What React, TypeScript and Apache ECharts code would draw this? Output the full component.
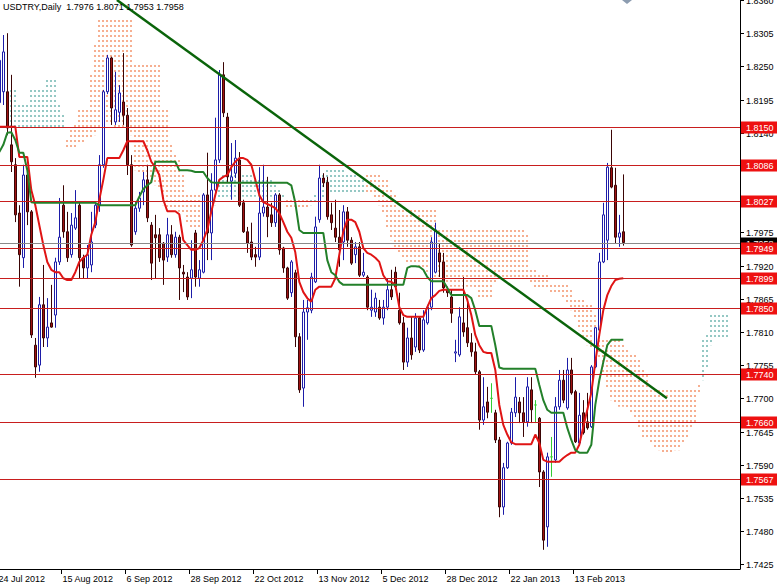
import React, { useEffect, useRef } from 'react';
import * as echarts from 'echarts';

const title = 'USDTRY,Daily  1.7976 1.8071 1.7953 1.7958';

// Daily bars, index 0 = 24 Jul 2012
const openP = [1.8190,1.8208,1.8208,1.8120,1.8087,1.8007,1.7933,1.8070,1.8009,1.7788,
 1.7755,1.7855,1.7800,1.7825,1.7838,1.7926,1.8020,1.7976,1.7938,1.7982,
 1.8020,1.7933,1.7916,1.7921,1.7987,1.8020,1.8087,1.8208,1.8264,1.8158,
 1.8174,1.8191,1.8169,1.8087,1.7976,1.8015,1.8042,1.8062,1.7987,1.7971,
 1.7971,1.7957,1.7934,1.7971,1.7938,1.7967,1.7909,1.7901,1.7899,1.7974,
 1.7899,1.7909,1.8037,1.7974,1.8045,1.8095,1.8236,1.8166,1.8060,1.8073,
 1.8095,1.8024,1.7976,1.7959,1.7938,1.7934,1.8007,1.8017,1.8004,1.7991,
 1.8037,1.7949,1.7916,1.7875,1.7908,1.7802,1.7717,1.7843,1.7846,1.7893,
 1.7996,1.8065,1.8058,1.8004,1.7982,1.7967,1.7959,1.8009,1.7962,1.7938,
 1.7951,1.7904,1.7901,1.7846,1.7843,1.7851,1.7833,1.7851,1.7880,1.7909,
 1.7846,1.7825,1.7760,1.7800,1.7785,1.7833,1.7780,1.7825,1.7851,1.7909,
 1.7941,1.7926,1.7880,1.7868,1.7775,1.7772,1.7825,1.7817,1.7792,1.7777,
 1.7744,1.7664,1.7694,1.7700,1.7676,1.7631,1.7520,1.7585,1.7626,1.7676,
 1.7694,1.7676,1.7661,1.7714,1.7689,1.7667,1.7578,1.7487,1.7603,1.7598,
 1.7686,1.7730,1.7684,1.7747,1.7711,1.7626,1.7676,1.7661,1.7653,1.7752,
 1.7813,1.7926,1.7962,1.8082,1.8053,1.7967,1.7976];
const highP = [1.8280,1.8302,1.8305,1.8236,1.8098,1.8020,1.8087,1.8082,1.8012,1.7800,
 1.7868,1.7921,1.7866,1.7888,1.7933,1.8032,1.8053,1.8009,1.8007,1.8045,
 1.8025,1.7938,1.7954,1.8009,1.8025,1.8103,1.8211,1.8269,1.8266,1.8241,
 1.8219,1.8272,1.8181,1.8103,1.8025,1.8042,1.8075,1.8087,1.7992,1.8004,
 1.7982,1.7959,1.7999,1.7987,1.7976,1.7971,1.7921,1.7909,1.7962,1.7979,
 1.7929,1.8040,1.8107,1.8073,1.8165,1.8244,1.8257,1.8173,1.8123,1.8128,
 1.8108,1.8029,1.7984,1.7991,1.7951,1.8083,1.8087,1.8067,1.8024,1.8040,
 1.8040,1.7951,1.7918,1.7929,1.7913,1.7808,1.7863,1.7863,1.7908,1.8001,
 1.8087,1.8073,1.8067,1.8024,1.8029,1.8012,1.8020,1.8017,1.7967,1.7959,
 1.7959,1.7941,1.7904,1.7880,1.7875,1.7863,1.7863,1.7899,1.7913,1.7918,
 1.7875,1.7835,1.7817,1.7835,1.7841,1.7835,1.7846,1.7855,1.7967,1.7991,
 1.7957,1.7941,1.7885,1.7880,1.7797,1.7851,1.7901,1.7858,1.7808,1.7792,
 1.7747,1.7735,1.7719,1.7725,1.7681,1.7636,1.7593,1.7628,1.7684,1.7735,
 1.7702,1.7702,1.7735,1.7735,1.7697,1.7669,1.7581,1.7610,1.7636,1.7702,
 1.7747,1.7747,1.7767,1.7767,1.7714,1.7709,1.7697,1.7709,1.7755,1.7818,
 1.7941,1.8024,1.8090,1.8145,1.8082,1.8004,1.8071];
const lowP = [1.8180,1.8186,1.8136,1.8075,1.7992,1.7885,1.7916,1.7987,1.7800,1.7734,
 1.7744,1.7785,1.7785,1.7817,1.7817,1.7921,1.7966,1.7926,1.7933,1.7979,
 1.7899,1.7899,1.7899,1.7909,1.7982,1.8009,1.8082,1.8204,1.8153,1.8153,
 1.8158,1.8153,1.8070,1.7951,1.7971,1.8009,1.8020,1.7992,1.7896,1.7899,
 1.7926,1.7888,1.7926,1.7933,1.7933,1.7863,1.7876,1.7863,1.7866,1.7885,
 1.7885,1.7907,1.7929,1.7929,1.8040,1.8090,1.8166,1.8057,1.8029,1.8065,
 1.8017,1.7974,1.7941,1.7929,1.7918,1.7929,1.8001,1.7967,1.7984,1.7984,
 1.7938,1.7908,1.7863,1.7868,1.7785,1.7709,1.7686,1.7797,1.7841,1.7891,
 1.7991,1.8050,1.7996,1.7979,1.7959,1.7918,1.7929,1.7951,1.7921,1.7924,
 1.7901,1.7901,1.7846,1.7835,1.7835,1.7830,1.7822,1.7846,1.7863,1.7880,
 1.7822,1.7747,1.7752,1.7764,1.7777,1.7775,1.7777,1.7822,1.7846,1.7907,
 1.7901,1.7875,1.7868,1.7825,1.7760,1.7769,1.7802,1.7785,1.7769,1.7739,
 1.7648,1.7656,1.7667,1.7676,1.7626,1.7503,1.7507,1.7583,1.7623,1.7669,
 1.7659,1.7636,1.7653,1.7659,1.7659,1.7553,1.7449,1.7454,1.7570,1.7593,
 1.7681,1.7692,1.7681,1.7706,1.7626,1.7623,1.7640,1.7648,1.7651,1.7750,
 1.7810,1.7924,1.7929,1.8048,1.7957,1.7951,1.7953];
const closeP = [1.8260,1.8274,1.8148,1.8092,1.8004,1.7938,1.8070,1.8009,1.7805,1.7752,
 1.7855,1.7800,1.7818,1.7818,1.7926,1.7967,1.7976,1.7933,1.7987,1.7999,
 1.7933,1.7916,1.7938,1.7959,1.8020,1.8087,1.8208,1.8264,1.8181,1.8178,
 1.8206,1.8169,1.8087,1.7954,1.8015,1.8032,1.8062,1.7999,1.7924,1.7966,
 1.7933,1.7929,1.7971,1.7938,1.7967,1.7916,1.7906,1.7868,1.7913,1.7901,
 1.7913,1.8037,1.7974,1.8045,1.8095,1.8236,1.8173,1.8067,1.8067,1.8098,
 1.8020,1.7976,1.7957,1.7934,1.7934,1.8007,1.8017,1.8001,1.7991,1.8037,
 1.7946,1.7916,1.7866,1.7926,1.7802,1.7714,1.7843,1.7850,1.7901,1.7984,
 1.8065,1.8057,1.8001,1.7991,1.7967,1.7946,1.8009,1.7962,1.7924,1.7951,
 1.7904,1.7909,1.7851,1.7851,1.7866,1.7833,1.7851,1.7880,1.7868,1.7885,
 1.7825,1.7760,1.7800,1.7772,1.7833,1.7780,1.7830,1.7851,1.7959,1.7979,
 1.7926,1.7883,1.7875,1.7841,1.7777,1.7835,1.7810,1.7792,1.7777,1.7744,
 1.7664,1.7686,1.7677,1.7700,1.7631,1.7520,1.7585,1.7626,1.7677,1.7702,
 1.7676,1.7661,1.7719,1.7681,1.7689,1.7578,1.7465,1.7603,1.7603,1.7686,
 1.7730,1.7697,1.7747,1.7709,1.7628,1.7672,1.7643,1.7651,1.7752,1.7817,
 1.7926,1.8004,1.8083,1.8050,1.7967,1.7974,1.7958];

const tenkan = [1.8150,1.8150,1.8150,1.8150,1.8150,1.8100,1.8100,1.8100,1.8045,1.8020,
 1.7987,1.7954,1.7926,1.7913,1.7909,1.7909,1.7899,1.7896,1.7896,1.7909,
 1.7926,1.7933,1.7938,1.7971,1.7992,1.8029,1.8062,1.8098,1.8098,1.8098,
 1.8098,1.8111,1.8126,1.8126,1.8126,1.8126,1.8126,1.8111,1.8092,1.8083,
 1.8070,1.8029,1.8010,1.8010,1.8010,1.8005,1.7962,1.7954,1.7946,1.7946,
 1.7949,1.7962,1.7979,1.8009,1.8037,1.8062,1.8067,1.8070,1.8083,1.8092,
 1.8098,1.8098,1.8095,1.8087,1.8062,1.8037,1.8025,1.8022,1.8019,1.8015,
 1.8007,1.7992,1.7976,1.7966,1.7942,1.7893,1.7876,1.7866,1.7860,1.7880,
 1.7885,1.7885,1.7885,1.7885,1.7899,1.7938,1.7976,1.7996,1.7996,1.7992,
 1.7976,1.7949,1.7941,1.7938,1.7933,1.7926,1.7904,1.7894,1.7893,1.7888,
 1.7851,1.7838,1.7835,1.7835,1.7835,1.7835,1.7835,1.7851,1.7866,1.7871,
 1.7878,1.7880,1.7880,1.7880,1.7880,1.7880,1.7880,1.7863,1.7838,1.7805,
 1.7788,1.7777,1.7775,1.7775,1.7747,1.7689,1.7656,1.7640,1.7627,1.7624,
 1.7624,1.7624,1.7624,1.7624,1.7640,1.7626,1.7598,1.7595,1.7595,1.7595,
 1.7595,1.7601,1.7606,1.7610,1.7610,1.7623,1.7653,1.7681,1.7709,1.7760,
 1.7805,1.7846,1.7871,1.7886,1.7896,1.7898,1.7899];

const kijun = [1.8108,1.8120,1.8140,1.8141,1.8128,1.8107,1.8107,1.8078,1.8025,1.8024,
 1.8024,1.8024,1.8024,1.8024,1.8024,1.8024,1.8024,1.8024,1.8024,1.8024,
 1.8024,1.8024,1.8024,1.8024,1.8024,1.8020,1.8020,1.8020,1.8020,1.8020,
 1.8020,1.8020,1.8020,1.8020,1.8020,1.8034,1.8047,1.8053,1.8058,1.8092,
 1.8092,1.8092,1.8092,1.8092,1.8092,1.8078,1.8078,1.8078,1.8077,1.8075,
 1.8075,1.8075,1.8065,1.8058,1.8057,1.8057,1.8057,1.8057,1.8057,1.8057,
 1.8057,1.8057,1.8057,1.8057,1.8057,1.8057,1.8057,1.8057,1.8057,1.8057,
 1.8057,1.8057,1.8057,1.8053,1.8024,1.7979,1.7974,1.7974,1.7974,1.7974,
 1.7974,1.7974,1.7929,1.7909,1.7904,1.7893,1.7888,1.7888,1.7888,1.7888,
 1.7888,1.7888,1.7888,1.7888,1.7888,1.7888,1.7888,1.7888,1.7888,1.7888,
 1.7888,1.7888,1.7916,1.7919,1.7919,1.7918,1.7913,1.7901,1.7894,1.7894,
 1.7894,1.7894,1.7883,1.7871,1.7871,1.7871,1.7871,1.7871,1.7866,1.7846,
 1.7820,1.7820,1.7820,1.7820,1.7788,1.7751,1.7749,1.7749,1.7749,1.7749,
 1.7749,1.7749,1.7749,1.7749,1.7749,1.7722,1.7697,1.7681,1.7676,1.7676,
 1.7676,1.7676,1.7651,1.7631,1.7614,1.7610,1.7610,1.7610,1.7623,1.7689,
 1.7730,1.7760,1.7788,1.7797,1.7797,1.7797,1.7797];

// Cloud (Senkou span A / B), index 0..182 (26 bars ahead)
const spanA = [null,null,null,1.8211,1.8211,1.8194,1.8194,1.8194,1.8216,1.8216,
 1.8216,1.8216,1.8232,1.8232,1.8232,1.8194,1.8174,1.8115,1.8115,1.8115,
 1.8120,1.8123,1.8128,1.8128,1.8136,1.8145,1.8148,1.8153,1.8153,1.8148,
 1.8148,1.8145,1.8145,1.8136,1.8078,1.8075,1.8070,1.8065,1.8058,1.8053,
 1.8045,1.8020,1.8017,1.8012,1.8012,1.8009,1.8004,1.7987,1.7982,1.7979,
 1.7979,1.7987,1.8004,1.8012,1.8037,1.8070,1.8078,1.8078,1.8078,1.8078,
 1.8078,1.8078,1.8078,1.8075,1.8070,1.8070,1.8070,1.8065,1.8062,1.8057,
 1.8049,1.8037,1.8017,1.8017,1.8015,1.8015,1.8012,1.8012,1.8032,1.8045,
 1.8062,1.8075,1.8082,1.8082,1.8082,1.8082,1.8082,1.8078,1.8078,1.8075,
 1.8070,1.8062,1.8042,1.8037,1.8029,1.8020,1.8004,1.7979,1.7962,1.7946,
 1.7941,1.7933,1.7926,1.7921,1.7921,1.7916,1.7913,1.7909,1.7904,1.7899,
 1.7896,1.7893,1.7888,1.7885,1.7885,1.7885,1.7885,1.7885,1.7885,1.7880,
 1.7866,1.7863,1.7863,1.7863,1.7888,1.7896,1.7899,1.7899,1.7899,1.7899,
 1.7899,1.7899,1.7896,1.7888,1.7883,1.7880,1.7880,1.7880,1.7876,1.7875,
 1.7871,1.7863,1.7855,1.7846,1.7830,1.7813,1.7797,1.7788,1.7780,1.7780,
 1.7764,1.7739,1.7714,1.7697,1.7689,1.7686,1.7686,1.7681,1.7677,1.7664,
 1.7648,1.7636,1.7631,1.7623,1.7618,1.7614,1.7610,1.7610,1.7610,1.7614,
 1.7614,1.7623,1.7631,1.7648,1.7656,1.7706,1.7797,1.7813,1.7841,1.7846,
 1.7846,1.7846,1.7846];
const spanB = [null,null,null,1.8148,1.8148,1.8145,1.8145,1.8145,1.8145,1.8145,
 1.8145,1.8145,1.8145,1.8145,1.8145,1.8148,1.8148,1.8136,1.8145,1.8153,
 1.8178,1.8186,1.8186,1.8244,1.8290,1.8327,1.8327,1.8327,1.8327,1.8327,
 1.8327,1.8327,1.8327,1.8327,1.8257,1.8257,1.8257,1.8257,1.8257,1.8257,
 1.8257,1.8186,1.8186,1.8128,1.8111,1.8095,1.8078,1.8045,1.8040,1.8040,
 1.8037,1.8029,1.8020,1.8020,1.8020,1.8029,1.8032,1.8034,1.8034,1.8034,
 1.8034,1.8034,1.8034,1.8034,1.8034,1.8034,1.8034,1.8034,1.8034,1.8032,
 1.8029,1.8029,1.8029,1.8029,1.8029,1.8029,1.8029,1.8029,1.8020,1.8022,
 1.8024,1.8029,1.8032,1.8037,1.8040,1.8040,1.8042,1.8040,1.8040,1.8042,
 1.8042,1.8042,1.8075,1.8075,1.8075,1.8075,1.8070,1.8062,1.8053,1.8037,
 1.8015,1.8015,1.8015,1.8015,1.8015,1.8015,1.8015,1.8015,1.8015,1.8015,
 1.7979,1.7979,1.7979,1.7979,1.7979,1.7979,1.7979,1.7979,1.7979,1.7979,
 1.7979,1.7979,1.7979,1.7979,1.7979,1.7979,1.7979,1.7979,1.7979,1.7979,
 1.7979,1.7979,1.7976,1.7916,1.7913,1.7909,1.7909,1.7908,1.7891,1.7888,
 1.7888,1.7888,1.7888,1.7880,1.7868,1.7868,1.7863,1.7855,1.7855,1.7846,
 1.7797,1.7797,1.7797,1.7797,1.7797,1.7797,1.7793,1.7788,1.7780,1.7772,
 1.7764,1.7755,1.7739,1.7719,1.7719,1.7719,1.7719,1.7719,1.7719,1.7719,
 1.7719,1.7719,1.7719,1.7719,1.7719,1.7730,1.7730,1.7747,1.7788,1.7797,
 1.7797,1.7797,1.7797];

const levels = [1.8150, 1.8086, 1.8027, 1.7949, 1.7899, 1.7850, 1.7740, 1.7660, 1.7567];
const bidPrice = 1.7958;
const priceTicks = [1.7425, 1.7480, 1.7535, 1.7590, 1.7645, 1.7700, 1.7755, 1.7810, 1.7865,
  1.7920, 1.7975, 1.8030, 1.8085, 1.8140, 1.8195, 1.8250, 1.8305, 1.8360];
const dateLabels = ['24 Jul 2012', '15 Aug 2012', '6 Sep 2012', '28 Sep 2012', '22 Oct 2012',
  '13 Nov 2012', '5 Dec 2012', '28 Dec 2012', '22 Jan 2013', '13 Feb 2013'];
const dateLabelBars = [0, 16, 32, 48, 64, 80, 96, 112, 128, 144];
const trendLine = [[29.4, 1.8360], [166.9, 1.7700]];

const X_MIN = 0.175, X_MAX = 185.175;
const Y_MIN = 1.74172, Y_MAX = 1.8360;
const FONT = 'Liberation Sans, Arial, sans-serif';
const CLOUD_UP = '#4FA39C';
const CLOUD_DOWN = '#F07A48';

function cloudSeries(name: string, color: string, data: any[]) {
  return {
    type: 'custom', name, z: 1, clip: true,
    itemStyle: { color, borderColor: color, opacity: 1 },
    data,
    renderItem: (params: any, api: any) => {
      const i = api.value(0), a = api.value(1), b = api.value(2);
      const p1 = api.coord([i, a]);
      const p2 = api.coord([i, b]);
      const x = Math.round(p1[0]) - 1;
      const top = Math.min(p1[1], p2[1]);
      const bot = Math.max(p1[1], p2[1]);
      const children: any[] = [];
      for (let y = Math.ceil(top / 5) * 5; y < bot; y += 5) {
        children.push({
          type: 'rect',
          shape: { x: x, y: y, width: 2, height: Math.min(2, bot - y) },
          style: { fill: color, opacity: 0.6 },
        });
      }
      return { type: 'group', children };
    },
  };
}

function buildOption() {
  const candles = openP.map((o, i) => [i, o, closeP[i], lowP[i], highP[i]]);
  const cloudUp: any[] = [];
  const cloudDown: any[] = [];
  spanA.forEach((a, i) => {
    const b = spanB[i];
    if (a == null || b == null) return;
    if (a >= b) cloudUp.push([i, a, b]); else cloudDown.push([i, a, b]);
  });

  return {
    animation: false,
    backgroundColor: '#ffffff',
    color: [CLOUD_DOWN, CLOUD_UP],
    grid: { left: 0, top: 0, width: 740, height: 569, containLabel: false },
    xAxis: {
      type: 'value', min: X_MIN, max: X_MAX,
      axisLine: { show: true, lineStyle: { color: '#000', width: 1 } },
      axisTick: { show: false }, axisLabel: { show: false }, splitLine: { show: false },
    },
    yAxis: {
      type: 'value', position: 'right', min: Y_MIN, max: Y_MAX, scale: true,
      axisLine: { show: true, lineStyle: { color: '#000', width: 1 } },
      axisTick: { show: false }, axisLabel: { show: false }, splitLine: { show: false },
    },
    graphic: [
      { type: 'text', left: 3, top: 2, z: 100,
        style: { text: title, fill: '#000', fontSize: 9, fontFamily: FONT } },
      { type: 'polygon', z: 100,
        shape: { points: [[622, 0], [632, 0], [627, 4]] },
        style: { fill: '#8C9CB0' } },
    ],
    series: [
      cloudSeries('kumoDown', CLOUD_DOWN, cloudDown),
      cloudSeries('kumoUp', CLOUD_UP, cloudUp),
      {
        type: 'candlestick', name: 'USDTRY', z: 2,
        data: candles,
        encode: { x: 0, y: [1, 2, 3, 4] },
        barWidth: 3,
        itemStyle: {
          color: '#ffffff', color0: '#A01212',
          borderColor: '#1C1CA8', borderColor0: '#3A0505',
          borderColorDoji: '#33CC33', borderWidth: 1,
        },
      },
      {
        type: 'line', name: 'Tenkan', z: 3, symbol: 'none',
        data: tenkan.map((v, i) => [i, v]),
        lineStyle: { color: '#E01414', width: 2 },
      },
      {
        type: 'line', name: 'Kijun', z: 3, symbol: 'none',
        data: kijun.map((v, i) => [i, v]),
        lineStyle: { color: '#23802A', width: 2 },
      },
      {
        type: 'custom', name: 'bid', z: 4, clip: false,
        data: [[X_MAX, bidPrice]],
        renderItem: (params: any, api: any) => {
          const cs = params.coordSys;
          const y = Math.round(api.coord([X_MAX, api.value(1)])[1]) + 0.5;
          const right = cs.x + cs.width;
          return {
            type: 'group', children: [
              { type: 'line', shape: { x1: cs.x, y1: y, x2: right, y2: y }, style: { stroke: '#8A8A8A', lineWidth: 1 } },
              { type: 'rect', shape: { x: right + 1, y: y - 6, width: 37, height: 12 }, style: { fill: '#000' } },
              { type: 'text', style: { text: api.value(1).toFixed(4), x: right + 6, y: y, fill: '#fff', fontSize: 9, fontFamily: FONT, textAlign: 'left', textVerticalAlign: 'middle' } },
            ],
          };
        },
      },
      {
        type: 'custom', name: 'levels', z: 5, clip: false,
        data: levels.map((v) => [X_MAX, v]),
        renderItem: (params: any, api: any) => {
          const cs = params.coordSys;
          const v = api.value(1);
          const y = Math.round(api.coord([X_MAX, v])[1]) + 0.5;
          const right = cs.x + cs.width;
          return {
            type: 'group', children: [
              { type: 'line', shape: { x1: cs.x, y1: y, x2: right, y2: y }, style: { stroke: '#C81E1E', lineWidth: 1 } },
              { type: 'rect', shape: { x: right + 1, y: y - 6, width: 37, height: 12 }, style: { fill: '#EE1111' } },
              { type: 'text', style: { text: v.toFixed(4), x: right + 6, y: y, fill: '#fff', fontSize: 9, fontFamily: FONT, textAlign: 'left', textVerticalAlign: 'middle' } },
            ],
          };
        },
      },
      {
        type: 'line', name: 'trend', z: 6, symbol: 'none',
        data: trendLine,
        lineStyle: { color: '#0A640A', width: 2.5 },
      },
      {
        type: 'custom', name: 'priceTicks', z: 3, clip: false,
        data: priceTicks.map((v) => [X_MAX, v]),
        renderItem: (params: any, api: any) => {
          const cs = params.coordSys;
          const v = api.value(1);
          const y = Math.round(api.coord([X_MAX, v])[1]) + 0.5;
          const right = cs.x + cs.width;
          return {
            type: 'group', children: [
              { type: 'line', shape: { x1: right, y1: y, x2: right + 4, y2: y }, style: { stroke: '#000', lineWidth: 1 } },
              { type: 'text', style: { text: v.toFixed(4), x: right + 6, y: y, fill: '#000', fontSize: 9, fontFamily: FONT, textAlign: 'left', textVerticalAlign: 'middle' } },
            ],
          };
        },
      },
      {
        type: 'custom', name: 'dates', z: 7, clip: false,
        data: dateLabelBars.map((b, k) => [b, Y_MIN, k]),
        renderItem: (params: any, api: any) => {
          const cs = params.coordSys;
          const x = Math.round(api.coord([api.value(0), Y_MIN])[0]) - 1.5;
          const y0 = cs.y + cs.height;
          return {
            type: 'group', children: [
              { type: 'line', shape: { x1: x, y1: y0, x2: x, y2: y0 + 5 }, style: { stroke: '#000', lineWidth: 1 } },
              { type: 'text', style: { text: dateLabels[api.value(2)], x: x + 1, y: y0 + 10, fill: '#000', fontSize: 9, fontFamily: FONT, textAlign: 'left', textVerticalAlign: 'middle' } },
            ],
          };
        },
      },
    ],
  };
}

export default function App() {
  const ref = useRef<HTMLDivElement>(null);
  useEffect(() => {
    if (!ref.current) return;
    const chart = echarts.init(ref.current, null, { renderer: 'svg' });
    chart.setOption(buildOption() as any);
    return () => chart.dispose();
  }, []);
  return (
    <div
      ref={ref}
      style={{ position: 'fixed', left: 0, top: 0, width: 777, height: 585, background: '#fff' }}
    />
  );
}
